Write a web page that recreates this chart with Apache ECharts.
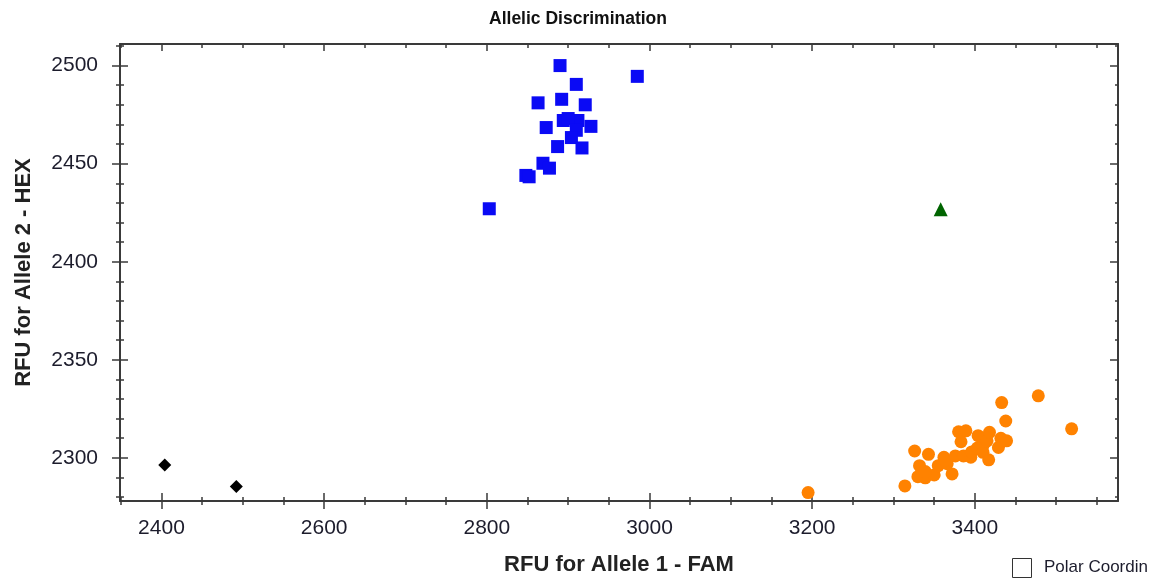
<!DOCTYPE html>
<html>
<head>
<meta charset="utf-8">
<script src="https://cdn.jsdelivr.net/npm/echarts@6/dist/echarts.min.js"></script>
<style>
  html, body { margin: 0; padding: 0; background: #fff; }
  #chart { width: 1156px; height: 581px; }
</style>
</head>
<body>
<div id="chart"></div>
<script>
// data (FAM, HEX)
const allele2 = [
  [2890, 2500], [2985, 2494.5], [2910, 2490.4], [2863, 2481], [2892, 2482.8],
  [2921, 2480], [2894, 2472], [2912, 2472], [2900, 2473], [2873, 2468.4],
  [2928, 2469], [2910, 2467], [2904, 2463.3], [2887, 2458.7], [2917, 2458],
  [2869, 2450.2], [2877, 2447.7], [2848, 2444], [2852, 2443.3], [2803, 2427]
];
const allele1 = [
  [3195, 2282.3], [3314, 2285.7], [3326, 2303.5], [3343, 2301.8], [3332, 2296],
  [3330, 2290.4], [3339, 2289.8], [3350, 2291.3], [3339, 2293], [3362, 2300.3],
  [3355, 2296], [3366, 2297], [3363, 2299], [3372, 2291.8], [3376, 2301],
  [3380, 2313.3], [3389, 2313.8], [3383, 2308.2], [3386, 2301], [3395, 2300.3],
  [3396, 2303], [3404, 2311.3], [3403, 2305], [3410, 2306.2], [3410, 2302.8],
  [3415, 2308.7], [3418, 2313], [3417, 2299], [3429, 2305.3], [3432, 2310],
  [3439, 2308.7], [3438, 2318.8], [3433, 2328.2], [3478, 2331.6], [3519, 2314.8]
];
const heterozygous = [[3358, 2426.7]];
const noCall = [[2404, 2296.4], [2492, 2285.4]];

const xMajor = [2400, 2600, 2800, 3000, 3200, 3400];
const xMinor = [2350, 2450, 2500, 2550, 2650, 2700, 2750, 2850, 2900, 2950, 3050, 3100, 3150, 3250, 3300, 3350, 3450, 3500, 3550];
const yMajor = [2300, 2350, 2400, 2450, 2500];
const yMinor = [2280, 2290, 2310, 2320, 2330, 2340, 2360, 2370, 2380, 2390, 2410, 2420, 2430, 2440, 2460, 2470, 2480, 2490, 2510];

const xMin = 2349, xMax = 3576, yMin = 2278, yMax = 2511;
const axisColor = '#3a3a3a';
const fontName = 'Liberation Sans, Arial, sans-serif';
const labelFont = { fontFamily: fontName, fontSize: 21, color: '#1c1c2c', formatter: v => String(v) };

function tickAxis(kind, position, values, length, inside, opts) {
  const base = {
    type: 'value', position: position, gridIndex: 0,
    min: kind === 'x' ? xMin : yMin, max: kind === 'x' ? xMax : yMax,
    splitLine: { show: false },
    axisLine: { show: false, onZero: false },
    axisTick: { show: true, customValues: values, length: length, inside: inside,
      lineStyle: { color: axisColor, width: 1.5 } },
    axisLabel: { show: false },
    axisPointer: { show: false }
  };
  return Object.assign(base, opts || {});
}

const chart = echarts.init(document.getElementById('chart'));
chart.setOption({
  animation: false,
  backgroundColor: '#fff',
  title: {
    text: 'Allelic Discrimination', left: 'center', top: 5,
    textStyle: { fontFamily: fontName, fontSize: 17.5, fontWeight: 'bold', color: '#111' }
  },
  grid: { left: 120, right: 38, top: 44, bottom: 80, outerBoundsMode: 'none', containLabel: false },
  xAxis: [
    tickAxis('x', 'bottom', xMajor, 8, false, {
      axisLine: { show: true, onZero: false, lineStyle: { color: axisColor, width: 2 } },
      axisLabel: Object.assign({ show: true, customValues: xMajor, margin: 17 }, labelFont),
      name: 'RFU for Allele 1 - FAM', nameLocation: 'middle', nameGap: 53,
      nameTextStyle: { fontFamily: fontName, fontSize: 22, fontWeight: 'bold', color: '#222' }
    }),
    tickAxis('x', 'bottom', xMajor, 8, true),
    tickAxis('x', 'bottom', xMinor, 4, false),
    tickAxis('x', 'bottom', xMinor, 4, true),
    tickAxis('x', 'top', xMajor, 7, true, {
      axisLine: { show: true, onZero: false, lineStyle: { color: axisColor, width: 2 } }
    }),
    tickAxis('x', 'top', xMinor, 4, true)
  ],
  yAxis: [
    tickAxis('y', 'left', yMajor, 8, false, {
      axisLine: { show: true, onZero: false, lineStyle: { color: axisColor, width: 2 } },
      axisLabel: Object.assign({ show: true, customValues: yMajor, margin: 22 }, labelFont),
      name: 'RFU for Allele 2 - HEX', nameLocation: 'middle', nameGap: 85,
      nameTextStyle: { fontFamily: fontName, fontSize: 22, fontWeight: 'bold', color: '#222' }
    }),
    tickAxis('y', 'left', yMajor, 8, true),
    tickAxis('y', 'left', yMinor, 4, false),
    tickAxis('y', 'left', yMinor, 4, true),
    tickAxis('y', 'right', yMajor, 8, true, {
      axisLine: { show: true, onZero: false, lineStyle: { color: axisColor, width: 2 } }
    }),
    tickAxis('y', 'right', yMinor, 3, true)
  ],
  series: [
    { name: 'Allele 2', type: 'scatter', symbol: 'rect', symbolSize: 13,
      itemStyle: { color: '#0a0af5', opacity: 1 }, data: allele2 },
    { name: 'Allele 1', type: 'scatter', symbol: 'circle', symbolSize: 13,
      itemStyle: { color: '#ff8200', opacity: 1 }, data: allele1 },
    { name: 'Heterozygous', type: 'scatter', symbol: 'triangle', symbolSize: 14,
      itemStyle: { color: '#006400', opacity: 1 }, data: heterozygous },
    { name: 'No Call', type: 'scatter', symbol: 'diamond', symbolSize: 13,
      itemStyle: { color: '#000', opacity: 1 }, data: noCall }
  ],
  graphic: [
    { type: 'rect', left: 1012, top: 558, shape: { width: 19, height: 19 },
      style: { fill: '#fff', stroke: '#333', lineWidth: 1 } },
    { type: 'text', left: 1044, top: 559,
      style: { text: 'Polar Coordin', fontFamily: fontName, fontSize: 17, fill: '#1c1c2c' } }
  ]
});
</script>
</body>
</html>
